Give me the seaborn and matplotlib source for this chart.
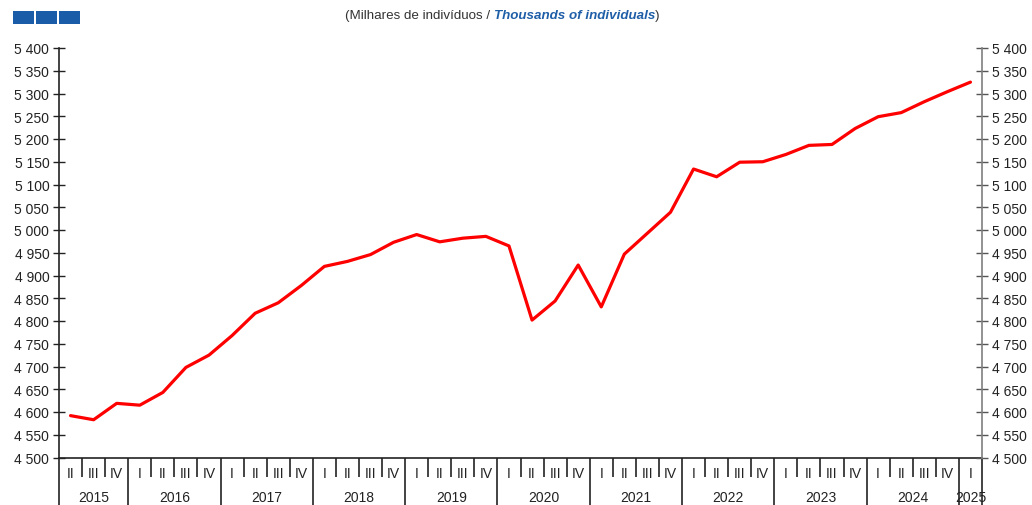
import matplotlib
matplotlib.use("Agg")
import matplotlib.pyplot as plt
from matplotlib.patches import Rectangle
from matplotlib.ticker import FuncFormatter, FixedLocator
import seaborn as sns
import pandas as pd

years = ["2015", "2016", "2017", "2018", "2019", "2020", "2021", "2022", "2023", "2024", "2025"]
quarters_per_year = [3, 4, 4, 4, 4, 4, 4, 4, 4, 4, 1]
quarter_labels = (["II", "III", "IV"] + ["I", "II", "III", "IV"] * 9 + ["I"])
values = [4592, 4583, 4619, 4615, 4643, 4698, 4725, 4768, 4817, 4840,
          4878, 4920, 4931, 4946, 4973, 4990, 4974, 4982, 4986, 4965,
          4802, 4844, 4923, 4831, 4947, 4993, 5039, 5134, 5117, 5149,
          5150, 5166, 5186, 5188, 5223, 5249, 5258, 5282, 5304, 5325]
y_ticks = list(range(4500, 5401, 50))

sns.set_theme(style="white")
plt.rcParams['font.family'] = ['Liberation Sans', 'DejaVu Sans']

df = pd.DataFrame({"pos": range(len(values)), "value": values})

W, H = 1032, 506
fig = plt.figure(figsize=(W / 100, H / 100), dpi=100)
x0, x1 = 59, 982
ytop, ybot = 49, 458.5
ax = fig.add_axes([x0 / W, (H - ybot) / H, (x1 - x0) / W, (ybot - ytop) / H])

sns.lineplot(data=df, x="pos", y="value", ax=ax, color="#ff0000", linewidth=2.3)

n = len(values)
ax.set_xlim(-0.5, n - 0.5)
ax.set_ylim(4500, 5400)

fmt = FuncFormatter(lambda v, p: f"{int(v):,}".replace(",", " "))
ax.yaxis.set_major_locator(FixedLocator(y_ticks))
ax.yaxis.set_major_formatter(fmt)
ax.tick_params(axis='y', direction='inout', length=8, width=1, color="#222222",
               labelsize=10, labelcolor="#222222", pad=3)

ax2 = ax.twinx()
ax2.set_ylim(4500, 5400)
ax2.yaxis.set_major_locator(FixedLocator(y_ticks))
ax2.yaxis.set_major_formatter(fmt)
ax2.tick_params(axis='y', direction='inout', length=8, width=1, color="#555555",
                labelsize=10, labelcolor="#222222", pad=3)

for a in (ax, ax2):
    a.spines['top'].set_visible(False)
    a.grid(False)
ax.spines['right'].set_visible(False)
ax2.spines['left'].set_visible(False)
ax2.spines['bottom'].set_visible(False)
ax2.spines['right'].set_color("#7f7f7f")
ax2.spines['right'].set_linewidth(1.2)
ax.spines['left'].set_color("#222222")
ax.spines['bottom'].set_color("#222222")
ax.spines['left'].set_linewidth(1.2)
ax.spines['bottom'].set_linewidth(1.2)

# x-axis category ticks
year_bounds = [-0.5]
for q in quarters_per_year:
    year_bounds.append(year_bounds[-1] + q)
quarter_bounds = [i - 0.5 for i in range(n + 1) if (i - 0.5) not in year_bounds]
ax.xaxis.set_major_locator(FixedLocator(year_bounds))
ax.xaxis.set_minor_locator(FixedLocator(quarter_bounds))
ax.set_xticklabels([])
ax.tick_params(axis='x', which='major', direction='out', length=34, width=1.2,
               color="#222222", bottom=True)
ax.tick_params(axis='x', which='minor', direction='out', length=14, width=1.2,
               color="#222222", bottom=True)
ax.set_xlabel("")
ax.set_ylabel("")
ax2.set_ylabel("")

trans = ax.get_xaxis_transform()
axh = ybot - ytop
for i, lab in enumerate(quarter_labels):
    ax.text(i, -(474 - ybot) / axh, lab, transform=trans, ha='center', va='center',
            fontsize=10, color="#222222")
start = 0
for yr, q in zip(years, quarters_per_year):
    c = start + (q - 1) / 2
    ax.text(c, -(498 - ybot) / axh, yr, transform=trans, ha='center', va='center',
            fontsize=10, color="#222222")
    start += q

# logo squares
for k in range(3):
    fig.patches.append(Rectangle(((13.3 + k * 23) / W, (H - 25) / H), 21 / W, 13.3 / H,
                                 transform=fig.transFigure, facecolor="#1a5ca8",
                                 edgecolor="none", linewidth=0))

# title
t1 = fig.text(345 / W, (H - 16) / H, "(Milhares de indivíduos / ", ha='left', va='center',
              fontsize=9.6, color="#333333")
t2 = ax.annotate("Thousands of individuals", xy=(1, 0), xycoords=t1, va='bottom', ha='left',
                 fontsize=9.6, color="#1f5fa8", fontweight='bold', fontstyle='italic',
                 annotation_clip=False)
t3 = ax.annotate(")", xy=(1, 0), xycoords=t2, va='bottom', ha='left',
                 fontsize=9.6, color="#333333", annotation_clip=False)

fig.savefig("out.png", dpi=100)
